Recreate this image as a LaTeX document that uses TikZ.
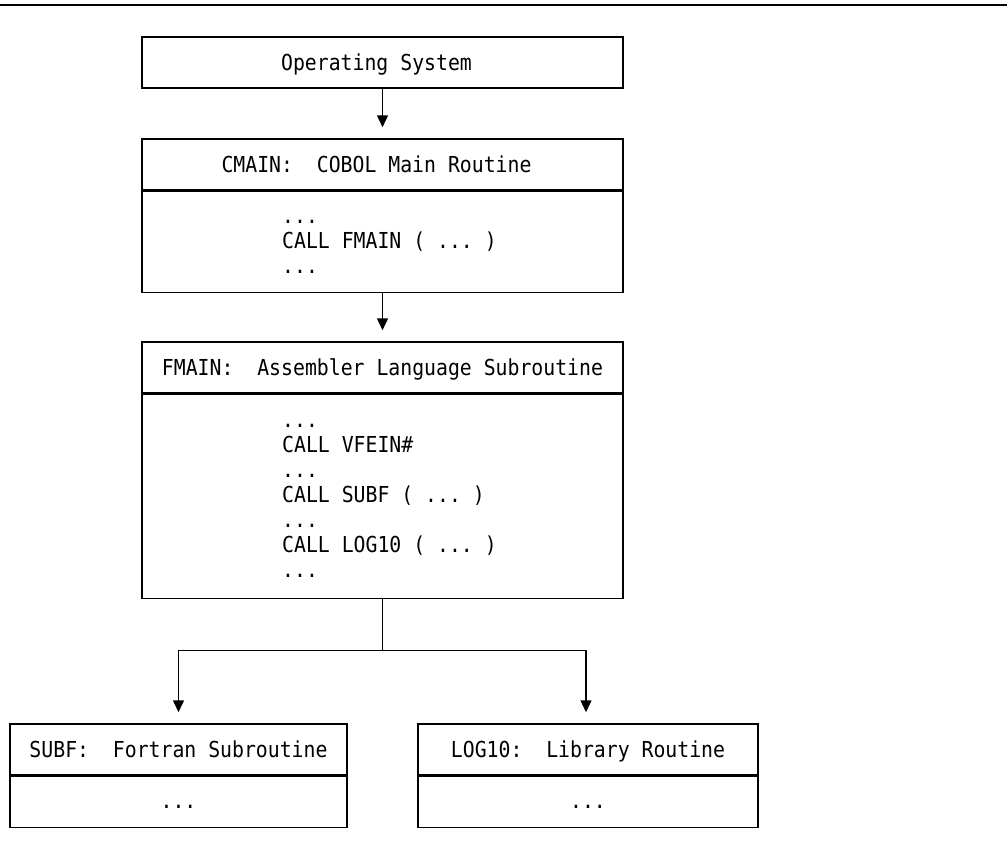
\documentclass[tikz,border=0pt]{standalone}
\usepackage{fontspec}
\usetikzlibrary{arrows.meta}
\newfontfamily\codefont[FakeStretch=0.9]{DejaVu Sans Mono}
\newcommand\dd{...}
% one trailing blank column, so a title sits half a column left of centre
\newcommand\padcol{\hspace*{12pt}}

\tikzset{
  every node/.style={font=\codefont\fontsize{22pt}{25pt}\selectfont},
  box/.style={draw, line width=1.5pt, rectangle, inner sep=0pt, minimum height=51pt},
  head/.style={box, text height=16pt, text depth=0pt},
  code/.style={inner sep=0pt, anchor=base west},
  wire/.style={line width=1.5pt},
  conn/.style={wire, -{Triangle[width=11pt,length=12pt]}, shorten >=11pt},
}

\begin{document}
\begin{tikzpicture}[x=1pt, y=-1pt]
  \useasboundingbox (0,0) rectangle (1007,859);

  % rule across the top of the page
  \draw[line width=2.5pt] (0,5) -- (1007,5);

  % operating system
  \node[head, minimum width=481pt] (os) at (382.5,62.5) {Operating System\padcol};

  % COBOL main routine
  \node[head, minimum width=481pt] (cmainH) at (382.5,164.5) {CMAIN:\ \ COBOL Main Routine\padcol};
  \node[box, minimum width=481pt, minimum height=101pt, anchor=north] (cmainB) at (cmainH.south) {};
  \foreach \t [count=\i] in {{\dd},{CALL FMAIN ( \dd\ )},{\dd}}
    \node[code] (cm\i) at (282,{223+25*(\i-1)}) {\t};

  % assembler subroutine
  \node[head, minimum width=481pt] (fmainH) at (382.5,367.5) {FMAIN:\ \ Assembler Language Subroutine};
  \node[box, minimum width=481pt, minimum height=204pt, anchor=north] (fmainB) at (fmainH.south) {};
  \foreach \t [count=\i] in {{\dd},{CALL VFEIN\#},{\dd},{CALL SUBF ( \dd\ )},{\dd},{CALL LOG10 ( \dd\ )},{\dd}}
    \node[code] (fm\i) at (282,{427+25*(\i-1)}) {\t};

  % Fortran subroutine
  \node[head, minimum width=337pt] (subfH) at (178.5,749.5) {SUBF:\ \ Fortran Subroutine};
  \node[box, minimum width=337pt, anchor=north] (subfB) at (subfH.south) {};
  \node[inner sep=0pt, anchor=base] (subfT) at (178.5,808) {\dd};

  % library routine
  \node[head, minimum width=340pt] (logH) at (588,749.5) {LOG10:\ \ Library Routine};
  \node[box, minimum width=340pt, anchor=north] (logB) at (logH.south) {};
  \node[inner sep=0pt, anchor=base] (logT) at (588,808) {\dd};

  % calls
  \draw[conn] (os.south) -- (cmainH.north);
  \draw[conn] (cmainB.south) -- (fmainH.north);
  \coordinate (split) at ([yshift=-51pt]fmainB.south);
  \draw[wire] (fmainB.south) -- (split);
  \draw[conn] (split) -| (subfH.north);
  \draw[conn] (split) -| ([xshift=-2pt]logH.north);
\end{tikzpicture}
\end{document}
